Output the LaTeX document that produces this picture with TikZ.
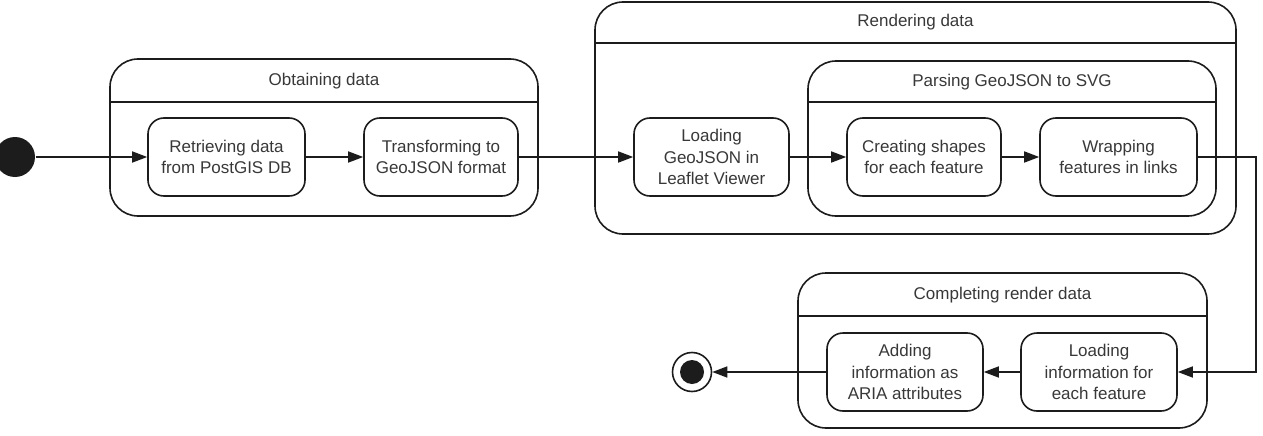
\documentclass[tikz,border=0pt]{standalone}
\usepackage{fontspec}
\setmainfont{Liberation Sans}
\usetikzlibrary{arrows.meta}
\definecolor{ink}{HTML}{1C1C1C}
\definecolor{txt}{HTML}{383838}
\begin{document}
\begin{tikzpicture}[x=1pt,y=-1pt,line width=1.6pt,draw=ink,
  every node/.style={font=\fontsize{17pt}{21.5pt}\selectfont,text=txt,inner sep=0pt,align=center},
  super/.style={draw=ink,rounded corners=28pt},
  state/.style={draw=ink,rounded corners=16pt,minimum height=78pt},
  flow/.style={-{Triangle[length=15pt,width=11pt]},draw=ink},
  initstate/.style={circle,fill=ink,minimum size=40pt},
  finalstate/.style={circle,draw=ink,minimum size=39pt,path picture={\fill[ink] (path picture bounding box.center) circle[radius=12pt];}}]
\useasboundingbox (0,0) rectangle (1263,436);
\node[super,minimum width=428pt,minimum height=157pt] (obtain) at (324,137.5) {};
\node[super,minimum width=641pt,minimum height=232pt] (render) at (915.5,118) {};
\node[super,minimum width=408pt,minimum height=155pt] (parse) at (1012,138.5) {};
\node[super,minimum width=409pt,minimum height=155pt] (complete) at (1002.5,350.5) {};
\draw ([yshift=-44pt]obtain.north west) -- ([yshift=-44pt]obtain.north east);
\draw ([yshift=-42pt]render.north west) -- ([yshift=-42pt]render.north east);
\draw ([yshift=-42pt]parse.north west) -- ([yshift=-42pt]parse.north east);
\draw ([yshift=-44pt]complete.north west) -- ([yshift=-44pt]complete.north east);
\node (obtaintitle) at (324,81) {Obtaining data};
\node (rendertitle) at (915.5,22) {Rendering data};
\node (parsetitle) at (1012,82) {Parsing GeoJSON to SVG};
\node (completetitle) at (1002.5,295) {Completing render data};
\node[initstate] (init) at (15,157) {};
\node[state,minimum width=157pt] (retr) at (226.5,157) {Retrieving data\\from PostGIS DB};
\node[state,minimum width=154pt] (trans) at (441,157) {Transforming to\\GeoJSON format};
\node[state,minimum width=155pt] (loadgeo) at (711.5,157) {Loading\\GeoJSON in\\Leaflet Viewer};
\node[state,minimum width=154pt] (create) at (924,157) {Creating shapes\\for each feature};
\node[state,minimum width=157pt] (wrap) at (1118.5,157) {Wrapping\\features in links};
\node[state,minimum width=156pt] (loadinfo) at (1099,372) {Loading\\information for\\each feature};
\node[state,minimum width=156pt] (adding) at (905,372) {Adding\\information as\\ARIA attributes};
\node[finalstate] (final) at (692,372) {};
\coordinate (turn) at (1256,264);
\draw[flow] (init) -- (retr);
\draw[flow] (retr) -- (trans);
\draw[flow] (trans) -- (loadgeo);
\draw[flow] (loadgeo) -- (create);
\draw[flow] (create) -- (wrap);
\draw[flow] (wrap) -| (turn) |- (loadinfo);
\draw[flow] (loadinfo) -- (adding);
\draw[flow] (adding) -- (final);
\end{tikzpicture}
\end{document}
